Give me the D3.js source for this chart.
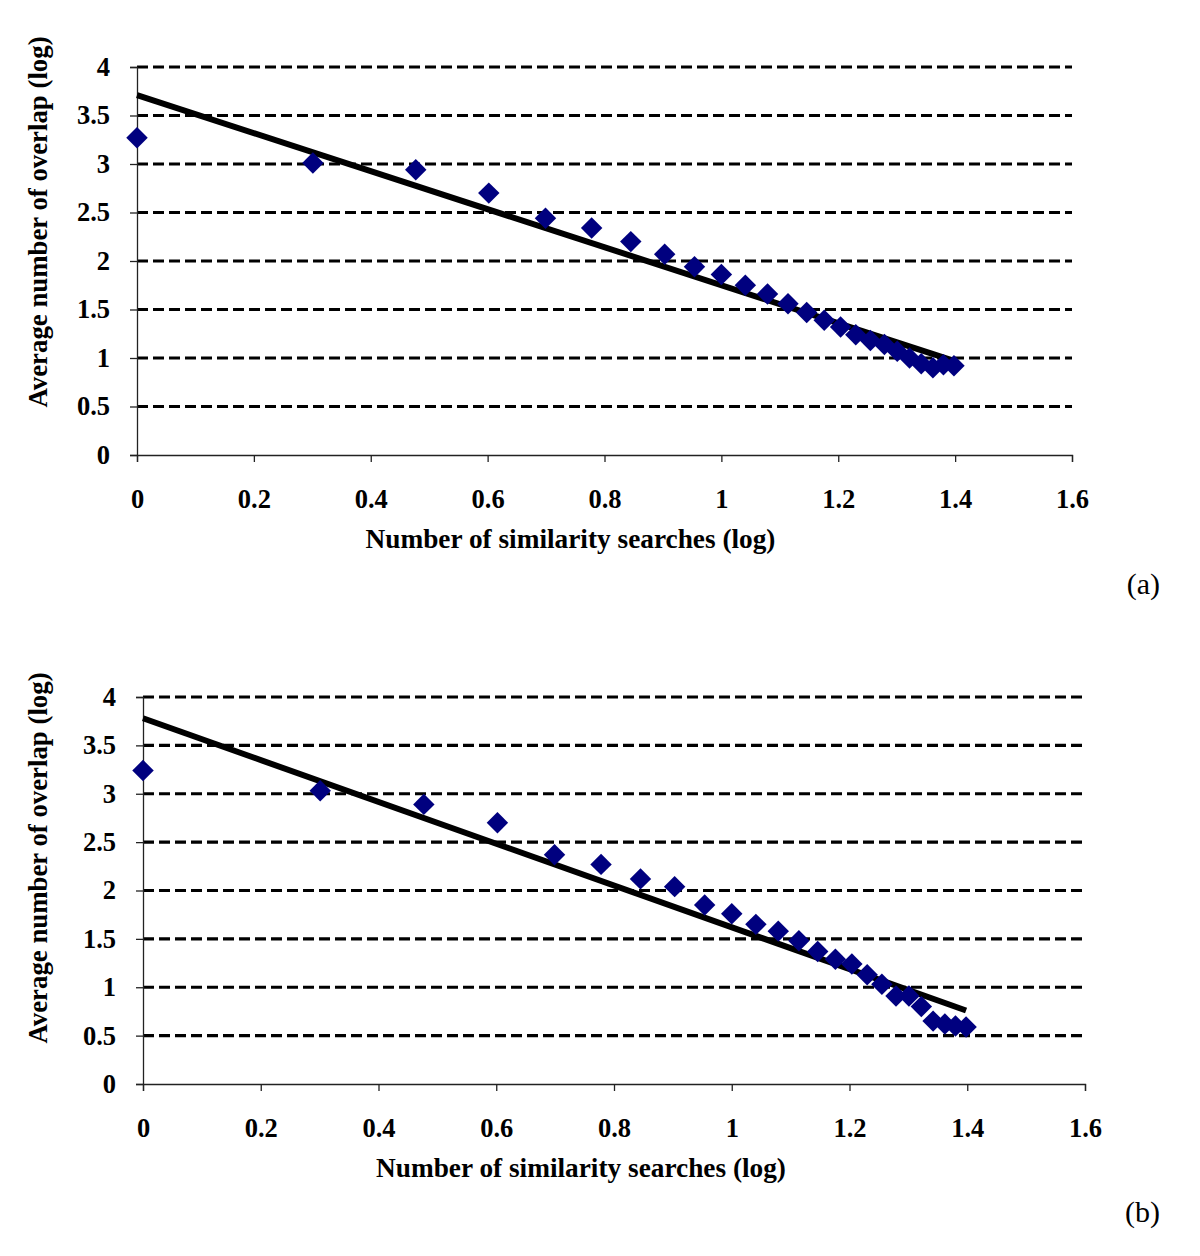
<!DOCTYPE html>
<html><head><meta charset="utf-8">
<script src="https://cdn.jsdelivr.net/npm/d3@7"></script>
<style>body{margin:0;background:#fff}svg{display:block}</style>
</head><body>
<svg id="c" width="1200" height="1256"></svg>
<script>
const xValues = [0, 0.301, 0.477, 0.602, 0.699, 0.778, 0.845, 0.903, 0.954, 1.0, 1.041, 1.079, 1.114, 1.146, 1.176, 1.204, 1.230, 1.255, 1.279, 1.301, 1.322, 1.342, 1.362, 1.380, 1.398];
const yValuesA = [3.27, 3.01, 2.94, 2.70, 2.44, 2.34, 2.20, 2.07, 1.94, 1.86, 1.75, 1.66, 1.56, 1.47, 1.39, 1.32, 1.24, 1.18, 1.14, 1.07, 1.00, 0.94, 0.90, 0.93, 0.92];
const yValuesB = [3.24, 3.03, 2.89, 2.70, 2.37, 2.27, 2.12, 2.04, 1.85, 1.76, 1.65, 1.58, 1.48, 1.37, 1.29, 1.24, 1.13, 1.03, 0.91, 0.91, 0.80, 0.65, 0.62, 0.60, 0.59];
const trendA = [[0, 3.71], [1.398, 0.97]];
const trendB = [[0, 3.78], [1.398, 0.76]];
const xTicks = [0, 0.2, 0.4, 0.6, 0.8, 1, 1.2, 1.4, 1.6];
const yTicks = [0, 0.5, 1, 1.5, 2, 2.5, 3, 3.5, 4];
const xTitle = "Number of similarity searches (log)";
const yTitle = "Average number of overlap (log)";

const svg = d3.select("#c");
const font = "'Liberation Serif','Times New Roman',serif";

function panel(cfg){
  const g = svg.append("g");
  const x = d3.scaleLinear().domain([0,1.6]).range([cfg.left, cfg.right]);
  const y = d3.scaleLinear().domain([0,4]).range([cfg.bottom, cfg.top]);
  g.selectAll("line.grid").data(yTicks.filter(d=>d>0)).enter().append("line")
    .attr("x1", cfg.left).attr("x2", cfg.right)
    .attr("y1", d=>y(d)).attr("y2", d=>y(d))
    .attr("stroke","#000").attr("stroke-width",3.2).attr("stroke-dasharray","11,5");
  const ya = g.append("g").attr("transform",`translate(${cfg.left},0)`)
    .call(d3.axisLeft(y).tickValues(yTicks).tickFormat(d3.format("")).tickSize(7).tickPadding(20));
  const xa = g.append("g").attr("transform",`translate(0,${cfg.bottom})`)
    .call(d3.axisBottom(x).tickValues(xTicks).tickFormat(d3.format("")).tickSize(7).tickPadding(27));
  [ya,xa].forEach(a=>{
    a.select(".domain").attr("stroke","#222").attr("stroke-width",1.3);
    a.selectAll(".tick line").attr("stroke","#222").attr("stroke-width",1.3);
    a.selectAll("text").attr("font-family",font).attr("font-weight","bold").attr("font-size",26.5).attr("fill","#000");
  });
  g.append("path").datum(cfg.trend)
    .attr("d", d3.line().x(d=>x(d[0])).y(d=>y(d[1])))
    .attr("stroke","#000").attr("stroke-width",6).attr("fill","none");
  const sym = d3.symbol().type(d3.symbolSquare).size(230);
  g.selectAll("path.pt").data(xValues.map((v,i)=>[v,cfg.ys[i]])).enter().append("path")
    .attr("d", sym)
    .attr("transform", d=>`translate(${x(d[0])},${y(d[1])}) rotate(45)`)
    .attr("fill","#00007f");
  g.append("text").attr("x", (cfg.left+cfg.right)/2 + cfg.xtOff).attr("y", cfg.bottom+93)
    .attr("text-anchor","middle").attr("font-family",font).attr("font-weight","bold").attr("font-size",27.3)
    .text(xTitle);
  g.append("text").attr("transform",`translate(47,${cfg.ytC}) rotate(-90)`)
    .attr("text-anchor","middle").attr("font-family",font).attr("font-weight","bold").attr("font-size",26.8)
    .text(yTitle);
  g.append("text").attr("x",1160).attr("y",cfg.labelY).attr("text-anchor","end")
    .attr("font-family",font).attr("font-size",30).text(cfg.label);
}

panel({left:137,right:1072,top:67,bottom:455,ys:yValuesA,trend:trendA,label:"(a)",labelY:594,xtOff:-34,ytC:222});
panel({left:143,right:1085,top:697,bottom:1084,ys:yValuesB,trend:trendB,label:"(b)",labelY:1222,xtOff:-33,ytC:858});
</script>
</body></html>
